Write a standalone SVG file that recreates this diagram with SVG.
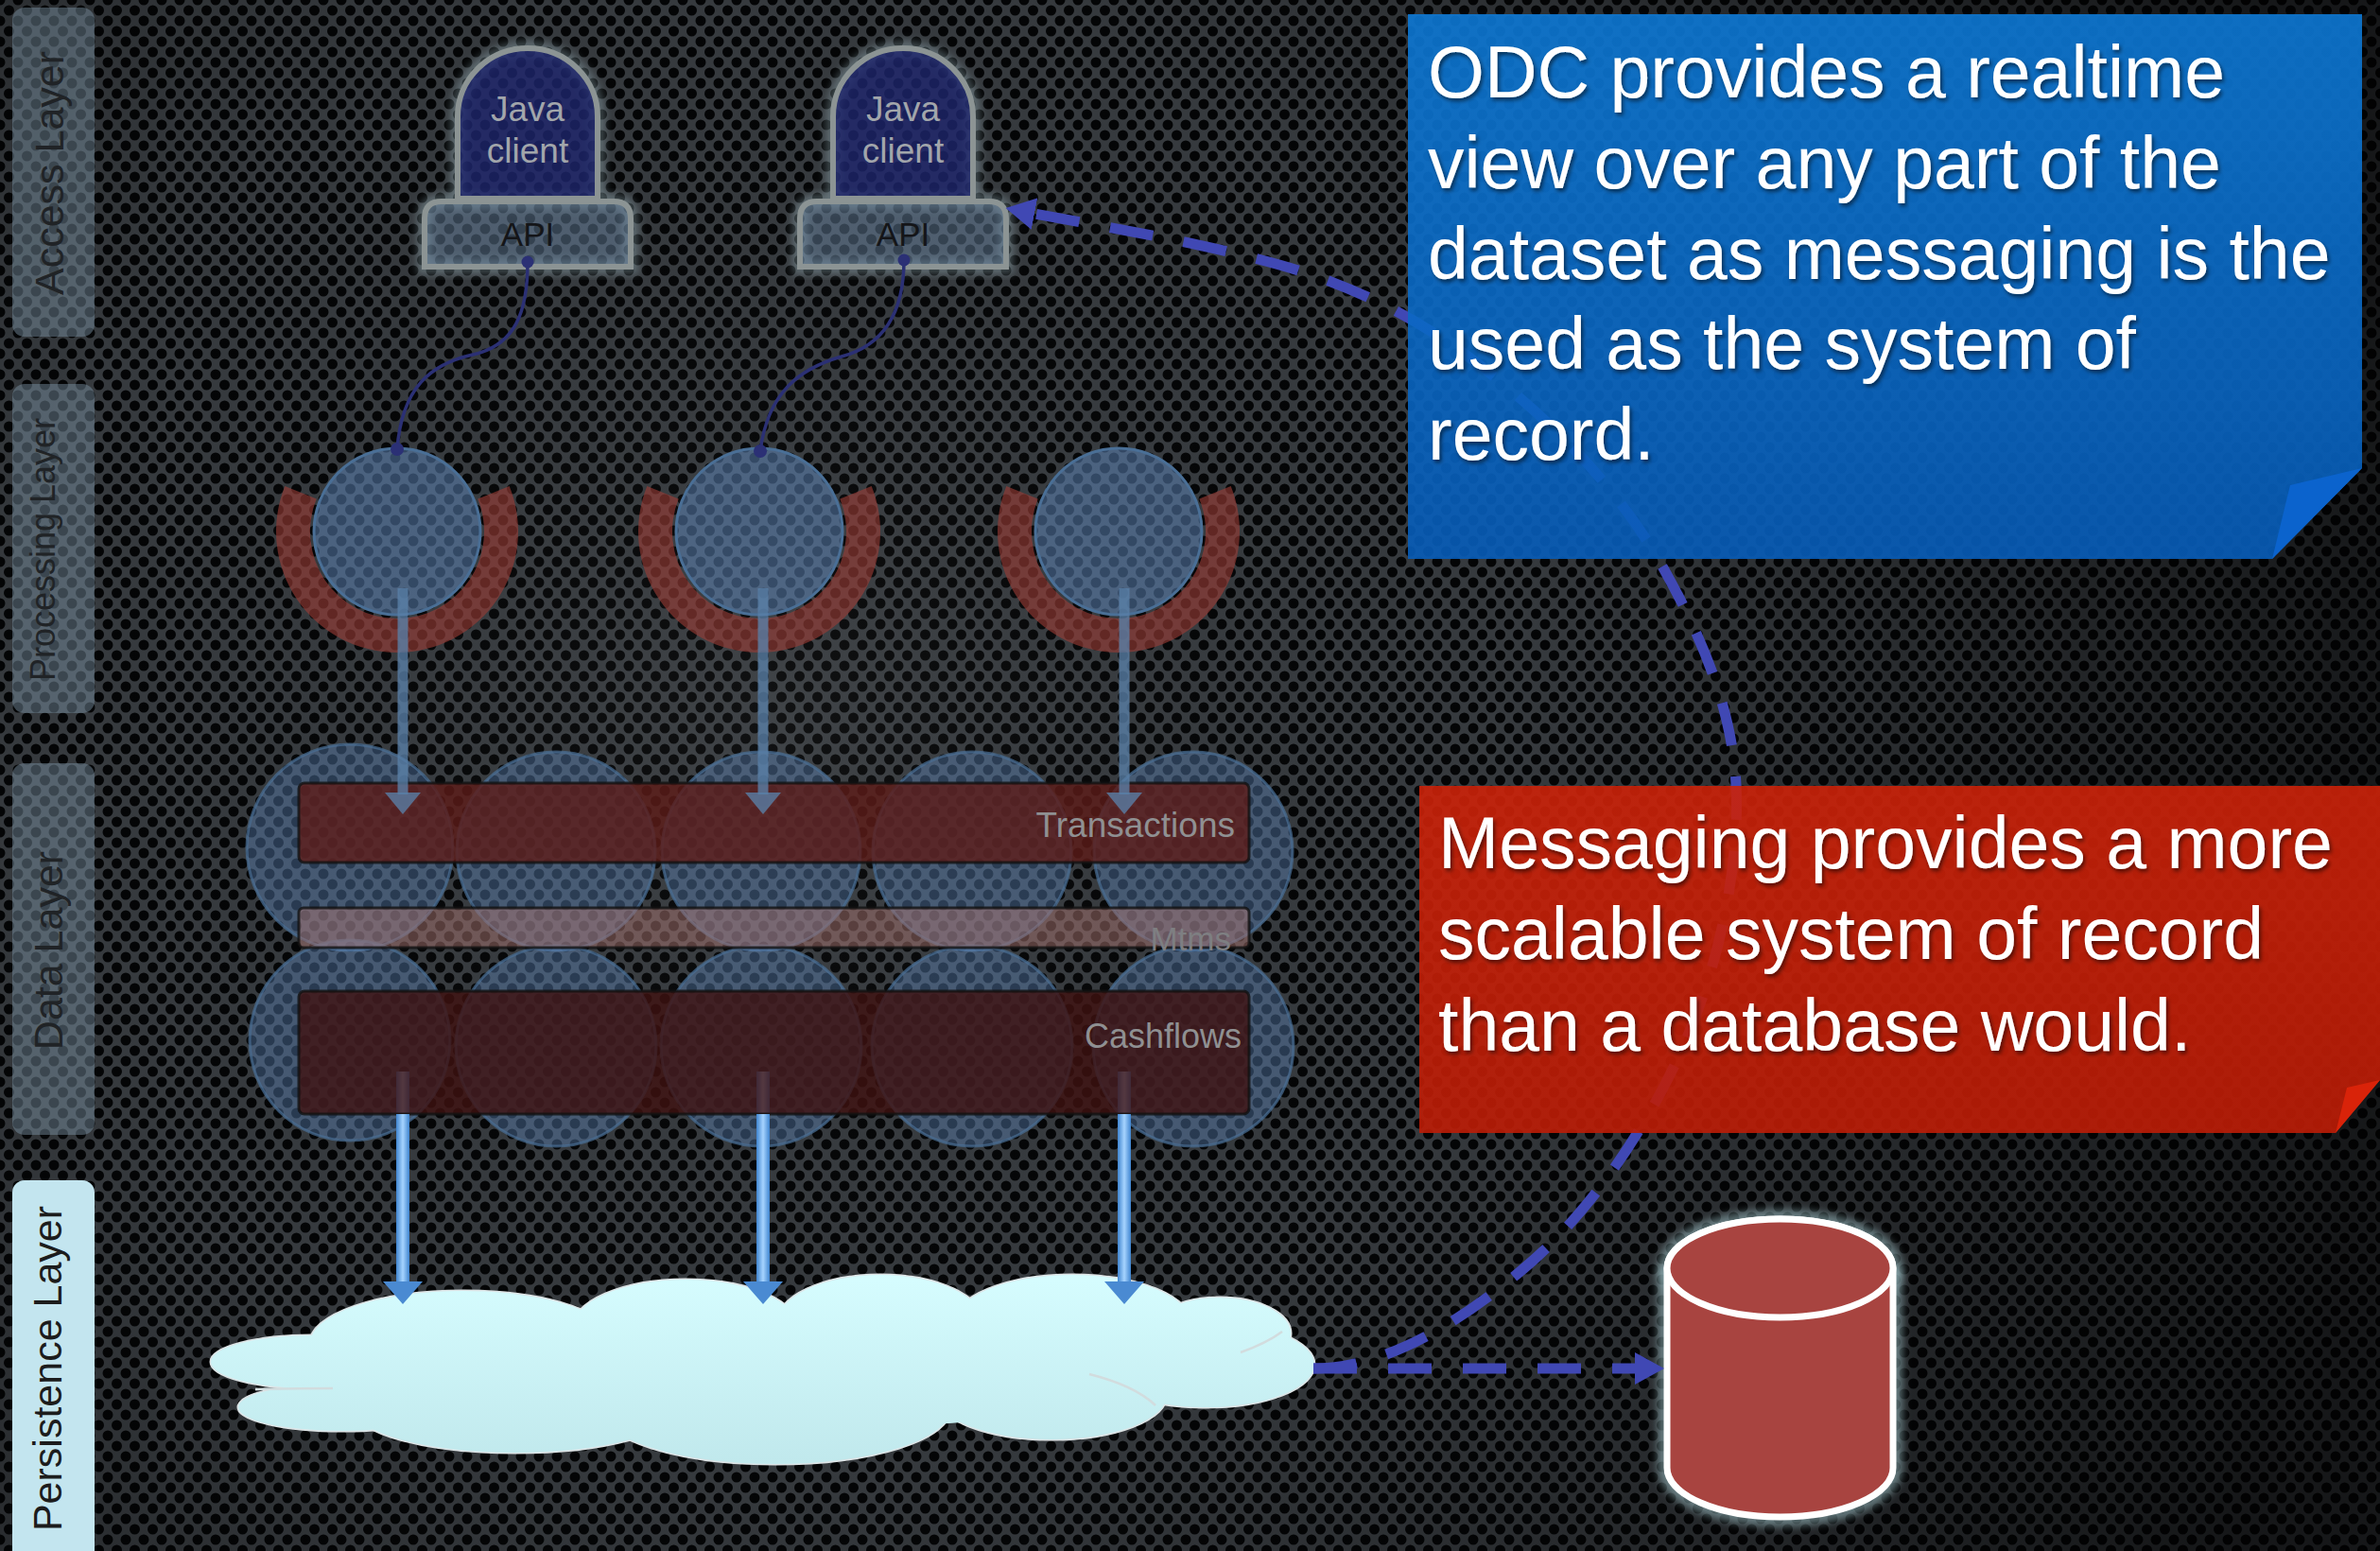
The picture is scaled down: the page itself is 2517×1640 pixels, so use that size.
<svg xmlns="http://www.w3.org/2000/svg" width="2517" height="1640" viewBox="0 0 2517 1640">
  <defs>
    <!-- perforated metal backdrop -->
    <pattern id="mesh" width="19" height="22" patternUnits="userSpaceOnUse">
      <rect width="19" height="22" fill="#363a3e"/>
      <circle cx="0" cy="0" r="5.5" fill="#040506"/>
      <circle cx="19" cy="0" r="5.5" fill="#040506"/>
      <circle cx="0" cy="22" r="5.5" fill="#040506"/>
      <circle cx="19" cy="22" r="5.5" fill="#040506"/>
      <circle cx="9.5" cy="11" r="5.5" fill="#040506"/>
    </pattern>
    <radialGradient id="vignette" cx="820" cy="760" r="1750" gradientUnits="userSpaceOnUse">
      <stop offset="0" stop-color="#ffffff" stop-opacity="0.05"/>
      <stop offset="0.45" stop-color="#000000" stop-opacity="0"/>
      <stop offset="1" stop-color="#000000" stop-opacity="0.6"/>
    </radialGradient>
    <linearGradient id="cloudFill" x1="0" y1="1345" x2="0" y2="1550" gradientUnits="userSpaceOnUse">
      <stop offset="0" stop-color="#d6fdff"/>
      <stop offset="1" stop-color="#c0e8ec"/>
    </linearGradient>
    <linearGradient id="blueNote" x1="0" y1="15" x2="0" y2="591" gradientUnits="userSpaceOnUse">
      <stop offset="0" stop-color="#0d78d4"/>
      <stop offset="1" stop-color="#075cb8"/>
    </linearGradient>
    <linearGradient id="redNote" x1="0" y1="831" x2="0" y2="1198" gradientUnits="userSpaceOnUse">
      <stop offset="0" stop-color="#cc2209"/>
      <stop offset="1" stop-color="#bc1c06"/>
    </linearGradient>
    <linearGradient id="pipe" x1="0" y1="0" x2="1" y2="0">
      <stop offset="0" stop-color="#3f84cf"/>
      <stop offset="0.5" stop-color="#a6d4ff"/>
      <stop offset="1" stop-color="#3f84cf"/>
    </linearGradient>
    <filter id="blur" x="-20%" y="-20%" width="140%" height="140%">
      <feGaussianBlur stdDeviation="4"/>
    </filter>
    <filter id="textShadow" x="-5%" y="-20%" width="110%" height="150%">
      <feDropShadow dx="2" dy="3" stdDeviation="2" flood-color="#000000" flood-opacity="0.55"/>
    </filter>
    <marker id="dashHead" markerUnits="userSpaceOnUse" viewBox="0 0 32 34" markerWidth="32" markerHeight="34" refX="0" refY="17" orient="auto">
      <path d="M0,0 L31,17 L0,34 Z" fill="#4048b4"/>
    </marker>
    <style>
      .lane { fill: #7e96a8; fill-opacity: 0.45; }
      .laneText { font-family: "Liberation Sans", Arial, sans-serif; font-size: 43px; fill: #202326; text-anchor: middle; }
      .tomb { fill: #1f2670; fill-opacity: 0.78; stroke: #8c9494; stroke-width: 6; }
      .api { fill: #6f8cab; fill-opacity: 0.45; stroke: #8c9494; stroke-width: 6; }
      .halo { fill: none; stroke: #a9c6ce; stroke-width: 16; stroke-opacity: 0.35; filter: url(#blur); }
      .clientText { font-family: "Liberation Sans", Arial, sans-serif; font-size: 37px; fill: #a2a6ab; text-anchor: middle; }
      .apiText { font-family: "Liberation Sans", Arial, sans-serif; font-size: 35px; fill: #141518; text-anchor: middle; }
      .ring { fill: #9a3c36; fill-opacity: 0.62; }
      .proc { fill: #5f8ac0; fill-opacity: 0.5; stroke: #4a6f96; stroke-width: 3; }
      .cell { fill: #5f8ac0; fill-opacity: 0.4; stroke: #4a6f96; stroke-width: 3; stroke-opacity: 0.7; }
      .bar { stroke: #121212; stroke-width: 3; stroke-opacity: 0.8; }
      .barText { font-family: "Liberation Sans", Arial, sans-serif; fill: #8f9092; text-anchor: end; }
      .wire { fill: none; stroke: #2b3075; stroke-width: 3.5; }
      .wireDot { fill: #2b3075; }
      .feed { fill: #5a80a8; fill-opacity: 0.78; }
      .pipe { fill: url(#pipe); }
      .pipeHead { fill: #4a8ad2; }
      .dashed { fill: none; stroke: #4048b4; stroke-width: 11; stroke-dasharray: 46 33; }
      .lobeEdge { fill: none; stroke: #dde4e6; stroke-width: 3; }
      .lobe { fill: url(#cloudFill); }
      .note { font-family: "Liberation Sans", Arial, sans-serif; font-size: 77px; fill: #ffffff; filter: url(#textShadow); }
    </style>
  </defs>

  <!-- backdrop -->
  <rect width="2517" height="1640" fill="url(#mesh)"/>
  <rect width="2517" height="1640" fill="url(#vignette)"/>

  <!-- layer lanes -->
  <g id="lane-access">
    <rect class="lane" x="13" y="8" width="87" height="348" rx="13"/>
    <text class="laneText" transform="translate(67,183) rotate(-90)">Access Layer</text>
  </g>
  <g id="lane-processing">
    <rect class="lane" x="13" y="406" width="87" height="348" rx="13"/>
    <text class="laneText" style="font-size:36px" transform="translate(58,581) rotate(-90)">Processing Layer</text>
  </g>
  <g id="lane-data">
    <rect class="lane" x="13" y="807" width="87" height="393" rx="13"/>
    <text class="laneText" transform="translate(66,1005) rotate(-90)">Data Layer</text>
  </g>
  <g id="lane-persistence">
    <rect x="13" y="1248" width="87" height="420" rx="13" fill="#c3e5ef"/>
    <text class="laneText" style="fill:#1c1c1c" transform="translate(65,1447) rotate(-90)">Persistence Layer</text>
  </g>

  <!-- access layer: Java clients -->
  <g id="client-1">
    <path class="halo" d="M484,208 V123 A74,72 0 0 1 632,123 V208"/>
    <path class="halo" d="M449,282 V231 Q449,213 467,213 H649 Q667,213 667,231 V282 Z"/>
    <path class="tomb" d="M484,210 V123 A74,72 0 0 1 632,123 V210 Z"/>
    <path class="api" d="M449,282 V231 Q449,213 467,213 H649 Q667,213 667,231 V282 Z"/>
    <text class="clientText" x="558" y="128">Java</text>
    <text class="clientText" x="558" y="172">client</text>
    <text class="apiText" x="558" y="260">API</text>
  </g>
  <g id="client-2">
    <path class="halo" d="M881,208 V123 A74,72 0 0 1 1029,123 V208"/>
    <path class="halo" d="M846,282 V231 Q846,213 864,213 H1046 Q1064,213 1064,231 V282 Z"/>
    <path class="tomb" d="M881,210 V123 A74,72 0 0 1 1029,123 V210 Z"/>
    <path class="api" d="M846,282 V231 Q846,213 864,213 H1046 Q1064,213 1064,231 V282 Z"/>
    <text class="clientText" x="955" y="128">Java</text>
    <text class="clientText" x="955" y="172">client</text>
    <text class="apiText" x="955" y="260">API</text>
  </g>

  <!-- processing layer -->
  <g id="proc-1">
    <path class="ring" d="M301.3,514 A128,128 0 1 0 538.7,514 L505.3,527.5 A92,92 0 1 1 334.7,527.5 Z"/>
    <circle class="proc" cx="420" cy="562" r="88"/>
  </g>
  <g id="proc-2">
    <path class="ring" d="M684.3,514 A128,128 0 1 0 921.7,514 L888.3,527.5 A92,92 0 1 1 717.7,527.5 Z"/>
    <circle class="proc" cx="803" cy="562" r="88"/>
  </g>
  <g id="proc-3">
    <path class="ring" d="M1064.3,514 A128,128 0 1 0 1301.7,514 L1268.3,527.5 A92,92 0 1 1 1097.7,527.5 Z"/>
    <circle class="proc" cx="1183" cy="562" r="88"/>
  </g>

  <!-- data layer: grid cells -->
  <g id="data-cells">
    <circle class="cell" cx="370" cy="896" r="109"/>
    <circle class="cell" cx="588" cy="900" r="105"/>
    <circle class="cell" cx="805" cy="900" r="105"/>
    <circle class="cell" cx="1028" cy="900" r="105"/>
    <circle class="cell" cx="1262" cy="900" r="105"/>
    <circle class="cell" cx="370" cy="1100" r="106"/>
    <circle class="cell" cx="588" cy="1106" r="106"/>
    <circle class="cell" cx="805" cy="1106" r="106"/>
    <circle class="cell" cx="1028" cy="1106" r="106"/>
    <circle class="cell" cx="1262" cy="1106" r="106"/>
  </g>

  <!-- write-behind pipes sit under the cache bars -->
  <g id="pipes">
    <rect class="pipe" x="419" y="1133" width="14" height="224"/>
    <rect class="pipe" x="800" y="1133" width="14" height="224"/>
    <rect class="pipe" x="1182" y="1133" width="14" height="224"/>
  </g>

  <g id="bar-transactions">
    <rect class="bar" x="316" y="828" width="1005" height="84" rx="6" fill="#5c1c18" fill-opacity="0.8"/>
    <text class="barText" x="1306" y="885" font-size="37">Transactions</text>
  </g>
  <g id="bar-mtms">
    <rect class="bar" x="316" y="960" width="1005" height="42" rx="5" fill="#a87470" fill-opacity="0.5"/>
    <text class="barText" x="1302" y="1005" font-size="35" style="fill:#7e7f82">Mtms</text>
  </g>
  <g id="bar-cashflows">
    <rect class="bar" x="316" y="1048" width="1005" height="130" rx="6" fill="#3e1210" fill-opacity="0.8"/>
    <text class="barText" x="1313" y="1108" font-size="36">Cashflows</text>
  </g>

  <!-- persistence layer -->
  <g id="cloud">
    <g class="lobeEdge">
      <ellipse cx="330" cy="1440" rx="107" ry="28"/>
      <ellipse cx="362" cy="1488" rx="110" ry="25"/>
      <ellipse cx="545" cy="1490" rx="170" ry="46"/>
      <ellipse cx="820" cy="1490" rx="185" ry="58"/>
      <ellipse cx="1112" cy="1475" rx="122" ry="47"/>
      <ellipse cx="1275" cy="1443" rx="115" ry="45"/>
      <ellipse cx="1290" cy="1410" rx="75" ry="38"/>
      <ellipse cx="1134" cy="1400" rx="126" ry="52"/>
      <ellipse cx="931" cy="1400" rx="110" ry="52"/>
      <ellipse cx="725" cy="1405" rx="120" ry="52"/>
      <ellipse cx="490" cy="1420" rx="162" ry="55"/>
    </g>
    <g class="lobe">
      <ellipse cx="330" cy="1440" rx="107" ry="28"/>
      <ellipse cx="362" cy="1488" rx="110" ry="25"/>
      <ellipse cx="545" cy="1490" rx="170" ry="46"/>
      <ellipse cx="820" cy="1490" rx="185" ry="58"/>
      <ellipse cx="1112" cy="1475" rx="122" ry="47"/>
      <ellipse cx="1275" cy="1443" rx="115" ry="45"/>
      <ellipse cx="1290" cy="1410" rx="75" ry="38"/>
      <ellipse cx="1134" cy="1400" rx="126" ry="52"/>
      <ellipse cx="931" cy="1400" rx="110" ry="52"/>
      <ellipse cx="725" cy="1405" rx="120" ry="52"/>
      <ellipse cx="490" cy="1420" rx="162" ry="55"/>
      <ellipse cx="800" cy="1450" rx="440" ry="62"/>
    </g>
    <g fill="none" stroke="#d2dcde" stroke-width="2.5">
      <path d="M270,1469 Q300,1468 352,1468"/>
      <path d="M1152,1453 Q1200,1465 1222,1486"/>
      <path d="M1312,1430 Q1340,1420 1356,1408"/>
    </g>
  </g>

  <g id="database">
    <path d="M1763,1341 V1552 A119.5,52 0 0 0 2002,1552 V1341" fill="none" stroke="#9ec2c8" stroke-width="20" stroke-opacity="0.55" filter="url(#blur)"/>
    <ellipse cx="1882.5" cy="1341" rx="119.5" ry="52" fill="none" stroke="#9ec2c8" stroke-width="20" stroke-opacity="0.55" filter="url(#blur)"/>
    <path d="M1763,1341 V1552 A119.5,52 0 0 0 2002,1552 V1341 A119.5,52 0 0 0 1763,1341 Z" fill="#a84440" stroke="#ffffff" stroke-width="7"/>
    <ellipse cx="1882.5" cy="1341" rx="119.5" ry="52" fill="#a84440" stroke="#ffffff" stroke-width="7"/>
  </g>

  <!-- connectors -->
  <g id="connectors">
    <path class="wire" d="M558,277 C558,330 545,365 500,375 C455,385 425,410 420,475"/>
    <circle class="wireDot" cx="558" cy="277" r="6.5"/>
    <circle class="wireDot" cx="420" cy="475" r="7"/>
    <path class="wire" d="M956,275 C956,330 935,365 890,377 C845,390 812,415 804,477"/>
    <circle class="wireDot" cx="956" cy="275" r="6.5"/>
    <circle class="wireDot" cx="804" cy="477" r="7"/>

    <rect class="feed" x="420.5" y="622" width="11" height="218"/>
    <polygon class="feed" points="407,838 445,838 426,861"/>
    <rect class="feed" x="801.5" y="622" width="11" height="218"/>
    <polygon class="feed" points="788,838 826,838 807,861"/>
    <rect class="feed" x="1183.5" y="622" width="11" height="218"/>
    <polygon class="feed" points="1170,838 1208,838 1189,861"/>

    <rect class="pipe" x="419" y="1178" width="14" height="179"/>
    <polygon class="pipeHead" points="405,1355 447,1355 426,1379"/>
    <rect class="pipe" x="800" y="1178" width="14" height="179"/>
    <polygon class="pipeHead" points="786,1355 828,1355 807,1379"/>
    <rect class="pipe" x="1182" y="1178" width="14" height="179"/>
    <polygon class="pipeHead" points="1168,1355 1210,1355 1189,1379"/>

    <path class="dashed" d="M1389,1447 H1729" marker-end="url(#dashHead)"/>
    <path class="dashed" d="M1389,1447 C1470,1447 1555,1391 1621,1333 C1687,1275 1747,1184 1783,1100 C1819,1016 1840,914 1836,830 C1832,746 1796,666 1757,597 C1718,528 1662,467 1603,417 C1543,367 1489,328 1400,295 C1311,262 1140,235 1094,226" marker-end="url(#dashHead)"/>
  </g>

  <!-- callouts -->
  <g id="note-odc">
    <polygon points="1489,15 2498,15 2498,495 2403,591 1489,591" fill="url(#blueNote)" fill-opacity="0.9"/>
    <polygon points="2498,495 2422,513 2403,591" fill="#0b63cd"/>
    <text class="note">
      <tspan x="1510" y="103">ODC provides a realtime</tspan>
      <tspan x="1510" y="199">view over any part of the</tspan>
      <tspan x="1510" y="295">dataset as messaging is the</tspan>
      <tspan x="1510" y="390">used as the system of</tspan>
      <tspan x="1510" y="486">record.</tspan>
    </text>
  </g>
  <g id="note-messaging">
    <polygon points="1501,831 2517,831 2517,1142 2470,1198 1501,1198" fill="url(#redNote)" fill-opacity="0.9"/>
    <polygon points="2517,1142 2482,1150 2470,1198" fill="#d92309"/>
    <text class="note">
      <tspan x="1521" y="918">Messaging provides a more</tspan>
      <tspan x="1521" y="1014">scalable system of record</tspan>
      <tspan x="1521" y="1111">than a database would.</tspan>
    </text>
  </g>
</svg>
